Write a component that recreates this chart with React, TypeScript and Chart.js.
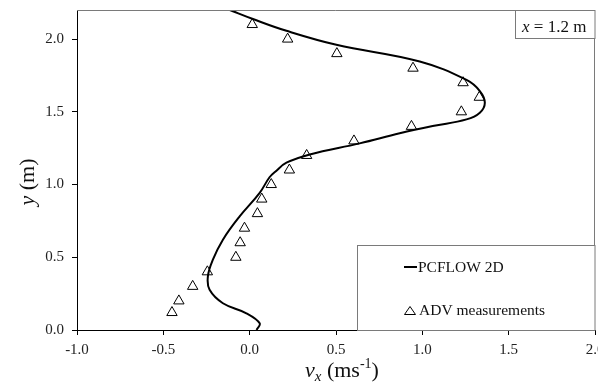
import React, { useEffect, useRef } from "react";
import { Chart, registerables } from "chart.js";

Chart.register(...registerables);

// PCFLOW 2D simulated profile (top to bottom)
const pcflowY = [2.2, 2.138, 2.057, 1.961, 1.846, 1.719, 1.643, 1.563, 1.494, 1.448, 1.402, 1.352, 1.283, 1.207, 1.15, 1.09, 1.05, 0.943, 0.781, 0.621, 0.483, 0.368, 0.276, 0.184, 0.115, 0.046, 0.0];
const pcflowX = [-0.115, 0.019, 0.213, 0.502, 0.985, 1.256, 1.333, 1.362, 1.333, 1.256, 1.06, 0.869, 0.637, 0.348, 0.213, 0.15, 0.115, 0.058, -0.058, -0.155, -0.213, -0.242, -0.232, -0.155, -0.019, 0.058, 0.04];

// ADV measurements
const advY = [2.1, 2.0, 1.9, 1.8, 1.7, 1.6, 1.5, 1.4, 1.3, 1.2, 1.1, 1.0, 0.9, 0.8, 0.7, 0.6, 0.5, 0.4, 0.3, 0.2, 0.12];
const advX = [0.015, 0.22, 0.505, 0.946, 1.236, 1.33, 1.226, 0.937, 0.604, 0.33, 0.23, 0.125, 0.07, 0.045, -0.03, -0.055, -0.08, -0.245, -0.33, -0.41, -0.45];

const xTicks = [-1.0, -0.5, 0.0, 0.5, 1.0, 1.5, 2.0];
const yTicks = [0.0, 0.5, 1.0, 1.5, 2.0];
const seriesLabels = ["PCFLOW 2D", "ADV measurements"];
const sectionLabel = ["x", " = 1.2 m"];

const SERIF = '"Liberation Serif", "Times New Roman", serif';

const decorPlugin = {
  id: "decor",
  afterDraw(chart: any) {
    const ctx = chart.ctx as CanvasRenderingContext2D;
    const a = chart.chartArea;
    ctx.save();
    // top and right frame
    ctx.strokeStyle = "#7a7a7a";
    ctx.lineWidth = 1;
    ctx.beginPath();
    ctx.moveTo(a.left, a.top + 0.5);
    ctx.lineTo(a.right - 0.5, a.top + 0.5);
    ctx.lineTo(a.right - 0.5, a.bottom);
    ctx.stroke();

    // section label box
    const bx = a.right - 80;
    ctx.fillStyle = "#fff";
    ctx.fillRect(bx, a.top, 80, 28);
    ctx.strokeRect(bx + 0.5, a.top + 0.5, 79.5, 28);
    ctx.fillStyle = "#111";
    ctx.textBaseline = "alphabetic";
    ctx.textAlign = "left";
    ctx.font = `italic 17px ${SERIF}`;
    let tx = bx + 7;
    ctx.fillText(sectionLabel[0], tx, a.top + 22);
    tx += ctx.measureText(sectionLabel[0]).width;
    ctx.font = `17px ${SERIF}`;
    ctx.fillText(sectionLabel[1], tx, a.top + 22);

    // legend box
    const lx = a.right - 238;
    const ly = a.bottom - 85;
    ctx.fillStyle = "#fff";
    ctx.fillRect(lx, ly, 238, 85);
    ctx.strokeStyle = "#7a7a7a";
    ctx.strokeRect(lx + 0.5, ly + 0.5, 237.5, 85);
    // line sample
    ctx.strokeStyle = "#000";
    ctx.lineWidth = 2;
    ctx.beginPath();
    ctx.moveTo(lx + 47, ly + 22);
    ctx.lineTo(lx + 60, ly + 22);
    ctx.stroke();
    ctx.fillStyle = "#111";
    ctx.font = `15.5px ${SERIF}`;
    ctx.textBaseline = "middle";
    ctx.fillText(seriesLabels[0], lx + 61, ly + 22.5);
    // triangle sample
    ctx.lineWidth = 1;
    ctx.beginPath();
    ctx.moveTo(lx + 53, ly + 61.5);
    ctx.lineTo(lx + 58.5, ly + 69.5);
    ctx.lineTo(lx + 47.5, ly + 69.5);
    ctx.closePath();
    ctx.stroke();
    ctx.fillText(seriesLabels[1], lx + 62, ly + 65.5);

    // x axis title: v_x (ms^-1)
    ctx.textBaseline = "alphabetic";
    ctx.fillStyle = "#111";
    let x0 = 305;
    const base = 377;
    ctx.font = `italic 22px ${SERIF}`;
    ctx.fillText("v", x0, base);
    x0 += ctx.measureText("v").width;
    ctx.font = `italic 15px ${SERIF}`;
    ctx.fillText("x", x0, base + 4);
    x0 += ctx.measureText("x").width;
    ctx.font = `22px ${SERIF}`;
    ctx.fillText(" (ms", x0, base);
    x0 += ctx.measureText(" (ms").width;
    ctx.font = `14px ${SERIF}`;
    ctx.fillText("-1", x0, base - 9);
    x0 += ctx.measureText("-1").width;
    ctx.font = `22px ${SERIF}`;
    ctx.fillText(")", x0, base);

    // y axis title: y (m)
    ctx.save();
    ctx.translate(34, 182);
    ctx.rotate(-Math.PI / 2);
    ctx.font = `italic 22px ${SERIF}`;
    const w1 = ctx.measureText("y").width;
    ctx.font = `22px ${SERIF}`;
    const w2 = ctx.measureText(" (m)").width;
    const start = -(w1 + w2) / 2;
    ctx.font = `italic 22px ${SERIF}`;
    ctx.fillText("y", start, 0);
    ctx.font = `22px ${SERIF}`;
    ctx.fillText(" (m)", start + w1, 0);
    ctx.restore();

    ctx.restore();
  },
};

export default function App() {
  const ref = useRef<HTMLCanvasElement>(null);
  useEffect(() => {
    document.body.style.margin = "0";
    const canvas = ref.current;
    if (!canvas) return;
    const chart = new Chart(canvas, {
      type: "scatter",
      data: {
        datasets: [
          {
            label: seriesLabels[0],
            data: pcflowX.map((x, i) => ({ x, y: pcflowY[i] })),
            showLine: true,
            borderColor: "#000",
            borderWidth: 2,
            pointRadius: 0,
            tension: 0.4,
            fill: false,
            order: 0,
          } as any,
          {
            label: seriesLabels[1],
            data: advX.map((x, i) => ({ x, y: advY[i] })),
            showLine: false,
            pointStyle: "triangle",
            pointRadius: 6,
            backgroundColor: "#fff",
            borderColor: "#000",
            borderWidth: 1,
            order: 1,
          } as any,
        ],
      },
      options: {
        responsive: false,
        animation: false,
        layout: { autoPadding: false, padding: { top: 10, right: 3, left: 0, bottom: 0 } },
        plugins: { legend: { display: false }, tooltip: { enabled: false } },
        scales: {
          x: {
            type: "linear",
            min: -1,
            max: 2,
            afterBuildTicks: (s: any) => {
              s.ticks = xTicks.map((v) => ({ value: v }));
            },
            afterFit: (s: any) => {
              s.height = 53;
              s.paddingLeft = 0;
              s.paddingRight = 0;
            },
            ticks: {
              font: { family: SERIF, size: 15 },
              color: "#222",
              padding: 6,
              maxRotation: 0,
              autoSkip: false,
              callback: (v: any) => Number(v).toFixed(1),
            },
            grid: { drawOnChartArea: false, drawTicks: true, tickLength: 5, color: "#000" },
            border: { display: true, color: "#000", width: 1 },
          },
          y: {
            type: "linear",
            min: 0,
            max: 2.2,
            afterBuildTicks: (s: any) => {
              s.ticks = yTicks.map((v) => ({ value: v }));
            },
            afterFit: (s: any) => {
              s.width = 77;
              s.paddingTop = 0;
              s.paddingBottom = 0;
            },
            ticks: {
              font: { family: SERIF, size: 15 },
              color: "#222",
              padding: 8,
              autoSkip: false,
              callback: (v: any) => Number(v).toFixed(1),
            },
            grid: { drawOnChartArea: false, drawTicks: true, tickLength: 5, color: "#000" },
            border: { display: true, color: "#000", width: 1 },
          },
        },
      },
      plugins: [decorPlugin],
    });
    return () => chart.destroy();
  }, []);
  return (
    <div style={{ width: 598, height: 383 }}>
      <canvas ref={ref} width={598} height={383} />
    </div>
  );
}
